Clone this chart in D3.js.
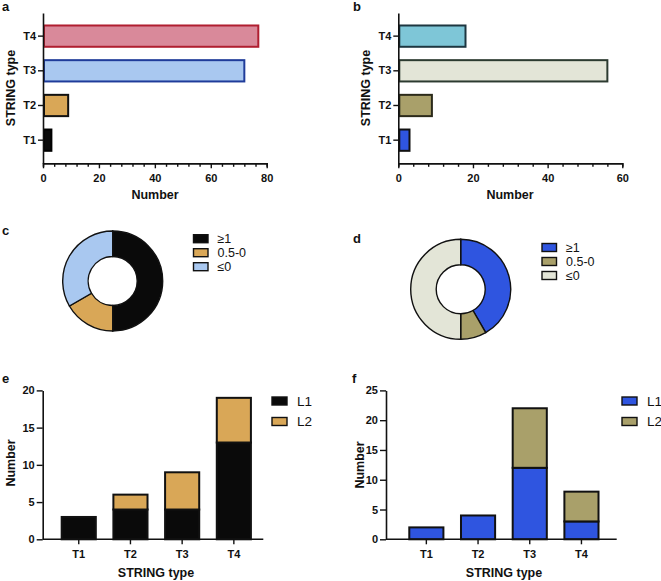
<!DOCTYPE html>
<html><head><meta charset="utf-8">
<script src="https://cdn.jsdelivr.net/npm/d3@7"></script>
<style>
body{margin:0;background:#fff;}
svg{display:block;font-family:"Liberation Sans",Arial,sans-serif;}
.tick text{font-weight:bold;font-size:11px;fill:#111;}
</style></head>
<body>
<svg id="chart" width="661" height="581"></svg>
<script>
// ---------- data ----------
const types = ["T1","T2","T3","T4"];
const countsA = [3, 9, 72, 77];
const countsB = [3, 9, 56, 18];
const colorsA = ["#0a0a0a","#d9a757","#a9c8f0","#d9899a"];
const strokesA = ["#000","#111","#1f3c9a","#b01e30"];
const colorsB = ["#2f55e0","#a9a06a","#e3e5d7","#7ec6d7"];
const strokesB = ["#111","#2b2a1a","#2c3b30","#1d3640"];

const donutLabels = ["\u22651","0.5-0","\u22640"];
const donutC = [18, 6, 12];
const donutD = [15, 3, 18];
const donutColorsC = ["#0a0a0a","#d9a757","#a9c8f0"];
const donutColorsD = ["#2f55e0","#a9a06a","#e3e5d7"];

const stackKeys = ["L1","L2"];
const eL1 = [3, 4, 4, 13];
const eL2 = [0, 2, 5, 6];
const fL1 = [2, 4, 12, 3];
const fL2 = [0, 0, 10, 5];
const stackColorsE = ["#0a0a0a","#d9a757"];
const stackColorsF = ["#2f55e0","#a9a06a"];

const svg = d3.select("#chart");

function panelLabel(t, x, y){
  svg.append("text").attr("x",x).attr("y",y).text(t)
    .attr("font-weight","bold").attr("font-size",13).attr("fill","#111");
}
function axisTitle(t, x, y, rot){
  const el = svg.append("text").text(t).attr("text-anchor","middle")
    .attr("font-weight","bold").attr("font-size",12.5).attr("fill","#111");
  if(rot){ el.attr("transform",`translate(${x},${y}) rotate(-90)`); }
  else { el.attr("x",x).attr("y",y); }
}
function styleAxis(g){
  g.selectAll(".domain").attr("stroke","#111").attr("stroke-width",1.6);
  g.selectAll(".tick line").attr("stroke","#111").attr("stroke-width",1.4);
}

// ---------- horizontal bar panels (a, b) ----------
function hbar(x0, x1, max, counts, fills, strokes){
  const y = d3.scaleBand().domain(types.slice().reverse()).range([13,163.3])
    .paddingInner(0.386).paddingOuter(0.36);
  const x = d3.scaleLinear().domain([0,max]).range([x0,x1]);
  const g = svg.append("g");
  g.selectAll("rect").data(types).join("rect")
    .attr("x", x(0)+1)
    .attr("y", d=>y(d))
    .attr("width", (d,i)=>Math.max(0,x(counts[i])-x(0)-1))
    .attr("height", y.bandwidth())
    .attr("fill",(d,i)=>fills[i]).attr("stroke",(d,i)=>strokes[i]).attr("stroke-width",2);
  // minor ticks
  const minor = svg.append("g").attr("transform","translate(0,163.3)")
    .call(d3.axisBottom(x).tickValues(d3.range(0,max+0.1,4).filter(v=>v%20!==0)).tickSize(3.5).tickFormat(""));
  styleAxis(minor);
  const ax = svg.append("g").attr("transform","translate(0,163.3)")
    .call(d3.axisBottom(x).tickValues(d3.range(0,max+0.1,20)).tickSize(5).tickSizeOuter(0).tickPadding(4));
  styleAxis(ax);
  ax.selectAll(".tick text").attr("dy","0.9em");
  const ay = svg.append("g").attr("transform",`translate(${x0},0)`)
    .call(d3.axisLeft(y).tickSize(5).tickSizeOuter(0).tickPadding(2));
  styleAxis(ay);
}
hbar(43, 266.7, 80, countsA, colorsA, strokesA);
hbar(398.3, 622.3, 60, countsB, colorsB, strokesB);
panelLabel("a", 2, 11);
panelLabel("b", 353, 11);
axisTitle("Number", 155, 199, false);
axisTitle("Number", 510, 199, false);
axisTitle("STRING type", 15, 88, true);
axisTitle("STRING type", 370, 88, true);

// ---------- donuts (c, d) ----------
function donut(cx, cy, vals, cols, lx, ly){
  const pie = d3.pie().sort(null)(vals);
  const arc = d3.arc().innerRadius(24.5).outerRadius(50);
  svg.append("g").attr("transform",`translate(${cx},${cy})`)
    .selectAll("path").data(pie).join("path")
    .attr("d",arc).attr("fill",(d,i)=>cols[i]).attr("stroke","#111").attr("stroke-width",1.4);
  const lg = svg.append("g");
  donutLabels.forEach((t,i)=>{
    lg.append("rect").attr("x",lx).attr("y",ly+i*14-4).attr("width",14.5).attr("height",8)
      .attr("fill",cols[i]).attr("stroke","#111").attr("stroke-width",1.4);
    lg.append("text").attr("x",lx+24).attr("y",ly+i*14+4.5).text(t)
      .attr("font-size",12.5).attr("fill","#111");
  });
}
donut(112.7, 281, donutC, donutColorsC, 193.5, 238.7);
donut(460.7, 289.3, donutD, donutColorsD, 542, 247.5);
panelLabel("c", 2, 235);
panelLabel("d", 353, 243);

// ---------- stacked bars (e, f) ----------
function stacked(ax0, ax1, b0, b1, max, l1, l2, cols, legX){
  const data = types.map((t,i)=>({type:t, L1:l1[i], L2:l2[i]}));
  const series = d3.stack().keys(stackKeys)(data);
  const x = d3.scaleBand().domain(types).range([b0,b1]).paddingInner(0.34).paddingOuter(0.17);
  const y = d3.scaleLinear().domain([0,max]).range([539.3,390.4]);
  series.forEach((s,k)=>{
    svg.append("g").selectAll("rect").data(s.filter(d=>d[1]-d[0]>0)).join("rect")
      .attr("x",d=>x(d.data.type)).attr("y",d=>y(d[1]))
      .attr("width",x.bandwidth()).attr("height",d=>y(d[0])-y(d[1]))
      .attr("fill",cols[k]).attr("stroke","#111").attr("stroke-width",2);
  });
  const ay = svg.append("g").attr("transform",`translate(${ax0},0)`)
    .call(d3.axisLeft(y).tickValues(d3.range(0,max+0.1,5)).tickSize(6).tickSizeOuter(0).tickPadding(2));
  styleAxis(ay);
  ay.selectAll(".tick text").attr("font-size",11.5);
  svg.append("line").attr("x1",ax0).attr("x2",ax1).attr("y1",539.3).attr("y2",539.3)
    .attr("stroke","#111").attr("stroke-width",1.6);
  const axb = svg.append("g").attr("transform","translate(0,539.3)")
    .call(d3.axisBottom(x).tickSize(5).tickSizeOuter(0).tickPadding(4));
  axb.select(".domain").remove();
  styleAxis(axb);
  axb.selectAll(".tick text").attr("dy","0.9em");
  stackKeys.forEach((k,i)=>{
    svg.append("rect").attr("x",legX).attr("y",397+i*20.5).attr("width",15).attr("height",8)
      .attr("fill",cols[i]).attr("stroke","#111").attr("stroke-width",1.4);
    svg.append("text").attr("x",legX+25).attr("y",405.5+i*20.5).text(k)
      .attr("font-size",13.5).attr("fill","#111");
  });
  return x;
}
const xe = stacked(42.7, 263.3, 52.9, 259.7, 20, eL1, eL2, stackColorsE, 272);
const xf = stacked(386, 616.7, 400.5, 607.3, 25, fL1, fL2, stackColorsF, 622);
panelLabel("e", 2, 383);
panelLabel("f", 352, 383);
axisTitle("Number", 15, 463, true);
axisTitle("Number", 364, 465, true);
axisTitle("STRING type", 156, 577, false);
axisTitle("STRING type", 504, 577, false);
</script>
</body></html>
